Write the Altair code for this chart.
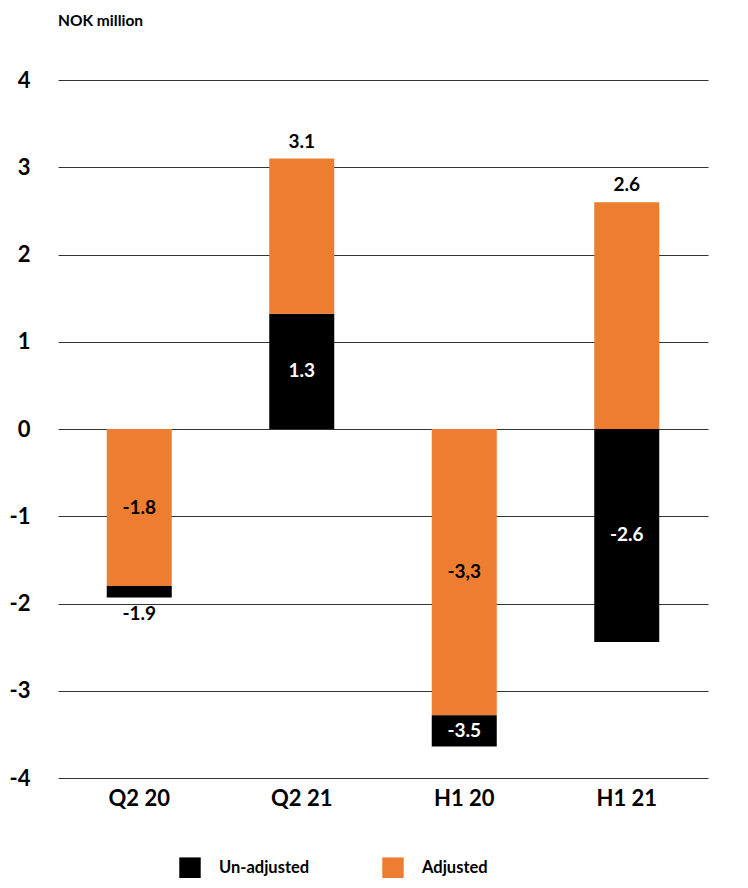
import altair as alt
import pandas as pd

# Segment data
categories = ["Q2 20", "Q2 20", "Q2 21", "Q2 21", "H1 20", "H1 20", "H1 21", "H1 21"]
series = ["Adjusted", "Un-adjusted", "Un-adjusted", "Adjusted",
          "Adjusted", "Un-adjusted", "Un-adjusted", "Adjusted"]
seg_start = [0, -1.8, 0, 1.32, 0, -3.28, 0, 0]
seg_end = [-1.8, -1.93, 1.32, 3.1, -3.28, -3.64, -2.44, 2.6]
labels = ["-1.8", "-1.9", "1.3", "3.1", "-3,3", "-3.5", "-2.6", "2.6"]
placement = ["inside", "below", "inside", "above", "inside", "inside", "inside", "above"]

cat_order = ["Q2 20", "Q2 21", "H1 20", "H1 21"]
legend_order = ["Un-adjusted", "Adjusted"]
y_ticks = [-4, -3, -2, -1, 0, 1, 2, 3, 4]

df = pd.DataFrame({
    "cat": categories, "series": series, "start": seg_start, "end": seg_end,
    "label": labels, "place": placement,
})
df["mid"] = (df["start"] + df["end"]) / 2

FONT = "Lato"
ORANGE = "#ED7D31"

x_enc = alt.X("cat:N", sort=cat_order,
              scale=alt.Scale(paddingInner=0.6, paddingOuter=0.3),
              axis=alt.Axis(title=None, labelAngle=0, labelFontSize=22, labelFontWeight="bold",
                            labelFont=FONT, labelColor="black", domain=False, ticks=False,
                            labelPadding=10))
y_scale = alt.Scale(domain=[-4, 4], nice=False)

bars = alt.Chart(df).mark_bar().encode(
    x=x_enc,
    y=alt.Y("start:Q", scale=y_scale,
            axis=alt.Axis(title=None, values=y_ticks, labelExpr="toString(datum.value)",
                          labelFontSize=22, labelFontWeight="bold", labelFont=FONT,
                          labelColor="black", domain=False, ticks=False, labelPadding=28,
                          grid=True, gridColor="#333333", gridWidth=1.2, gridOpacity=1)),
    y2="end:Q",
    color=alt.Color("series:N",
                    scale=alt.Scale(domain=legend_order, range=["#000000", ORANGE]),
                    legend=alt.Legend(title=None, orient="none", direction="horizontal",
                                      legendX=121, legendY=777, symbolType="square",
                                      symbolSize=460, symbolStrokeWidth=0, labelFontSize=16.5,
                                      labelFont=FONT, labelFontWeight="bold", labelColor="black",
                                      labelOffset=18, columnPadding=72)),
)

inside = alt.Chart(df).transform_filter(alt.datum.place == "inside").mark_text(
    fontSize=19, fontWeight="bold", font=FONT, baseline="middle"
).encode(
    x=alt.X("cat:N", sort=cat_order),
    y=alt.Y("mid:Q"),
    text="label:N",
    color=alt.Color("series:N", scale=alt.Scale(domain=legend_order, range=["white", "black"]),
                    legend=None),
)

above = alt.Chart(df).transform_filter(alt.datum.place == "above").mark_text(
    fontSize=19, fontWeight="bold", font=FONT, baseline="bottom", dy=-7, color="black"
).encode(
    x=alt.X("cat:N", sort=cat_order),
    y=alt.Y("end:Q"),
    text="label:N",
)

below = alt.Chart(df).transform_filter(alt.datum.place == "below").mark_text(
    fontSize=19, fontWeight="bold", font=FONT, baseline="top", dy=8, color="black"
).encode(
    x=alt.X("cat:N", sort=cat_order),
    y=alt.Y("end:Q"),
    text="label:N",
)

chart = alt.layer(bars, inside, above, below).resolve_scale(color="independent").properties(
    width=650, height=698,
    autosize=alt.AutoSizeParams(type="none"),
    padding={"left": 50, "top": 72, "right": 30, "bottom": 100},
    title=alt.TitleParams("NOK million", anchor="start", frame="group", fontSize=15.5,
                          fontWeight="bold", font=FONT, color="black", offset=40),
).configure(background="white", view=alt.ViewConfig(strokeWidth=0, stroke="transparent"))

chart.save("out.html", embed_options={"renderer": "svg", "actions": False})
